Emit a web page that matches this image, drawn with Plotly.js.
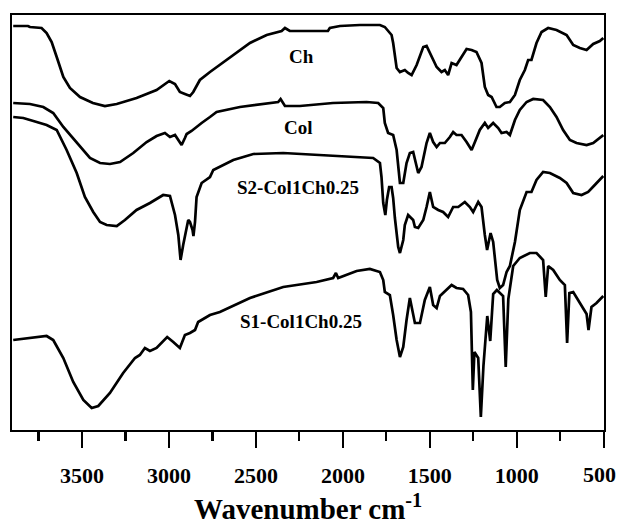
<!DOCTYPE html>
<html>
<head>
<meta charset="utf-8">
<script src="https://cdn.plot.ly/plotly-3.0.1.min.js"></script>
<style>html,body{margin:0;padding:0;background:#fff;}#chart{width:618px;height:528px;}</style>
</head>
<body>
<div id="chart"></div>
<script>
// FTIR spectra (wavenumber in cm-1, transmittance in arbitrary offset units)
const chWn = [3895,3810,3799,3732,3703,3674,3645,3607,3569,3511,3437,3368,3300,3186,3071,2998,2965,2937,2908,2879,2860,2822,2764,2668,2534,2438,2352,2333,2305,2247,2086,2075,2017,1902,1787,1759,1720,1711,1691,1672,1644,1625,1605,1576,1538,1519,1490,1461,1433,1414,1395,1375,1347,1318,1289,1260,1232,1203,1184,1165,1145,1117,1098,1069,1040,1011,983,954,935,916,887,858,820,772,714,676,638,599,561,523,503];
const chT  = [404,404,403,402,397,388,373,353,342,333,327,324,326,332,340,349,346,338,336,334,338,350,358,370,387,395,399,402,399,399,399,402,404,405,405,403,395,387,362,358,360,357,355,365,383,384,373,363,358,360,355,367,365,373,381,380,378,367,343,335,333,323,323,327,328,335,350,360,370,370,387,398,402,400,395,385,382,380,386,389,392];

const colWn = [3895,3799,3722,3665,3607,3530,3454,3396,3339,3281,3205,3128,3071,3023,2994,2965,2946,2927,2908,2898,2870,2850,2812,2764,2726,2592,2438,2372,2358,2333,2247,2057,1864,1797,1768,1759,1740,1711,1691,1672,1653,1634,1615,1596,1567,1548,1519,1500,1481,1461,1442,1414,1385,1366,1347,1318,1289,1260,1241,1213,1184,1165,1136,1107,1088,1059,1040,1011,983,944,906,849,810,772,734,695,657,599,561,523,503];
const colT  = [327,326,323,317,303,287,272,267,266,268,277,288,294,297,293,295,290,285,292,296,299,302,307,313,318,323,326,328,331,324,324,327,328,327,322,307,297,295,280,247,247,267,277,278,257,263,287,297,288,283,287,287,293,298,295,295,288,280,288,300,307,302,307,302,297,298,295,310,320,328,331,330,323,313,300,290,287,285,287,292,295];

const s2Wn = [3895,3837,3760,3703,3645,3588,3530,3483,3435,3396,3358,3300,3253,3186,3109,3033,2994,2971,2965,2946,2933,2918,2898,2889,2879,2864,2859,2850,2841,2812,2764,2745,2630,2515,2343,2151,1960,1826,1787,1778,1768,1756,1747,1734,1720,1711,1701,1682,1672,1653,1644,1625,1596,1586,1567,1538,1519,1500,1481,1452,1424,1395,1366,1337,1299,1270,1251,1222,1203,1194,1184,1171,1151,1136,1113,1098,1079,1059,1040,1011,992,983,944,916,887,849,810,753,714,676,628,590,552,523,503];
const s2T  = [313,312,308,305,300,280,257,233,218,208,205,204,210,220,227,235,234,220,215,195,170,185,200,210,208,200,194,208,233,247,253,260,270,276,277,275,273,272,267,253,227,215,230,243,243,232,212,183,177,190,205,215,210,203,202,210,223,238,223,220,218,213,223,223,228,223,218,228,223,207,195,180,197,188,150,142,145,158,164,188,210,220,238,238,250,258,257,252,247,237,235,238,245,250,254];

const s1Wn = [3895,3799,3703,3665,3607,3550,3492,3444,3406,3339,3263,3195,3167,3138,3109,3071,3042,3010,2975,2937,2908,2879,2850,2832,2764,2707,2534,2343,2151,2056,2040,2027,1921,1845,1787,1768,1759,1730,1711,1691,1672,1653,1634,1615,1586,1557,1529,1500,1481,1461,1442,1404,1375,1347,1309,1280,1264,1253,1244,1222,1207,1192,1170,1153,1136,1115,1079,1064,1049,1021,983,925,887,849,834,820,791,753,724,711,698,676,648,619,599,588,571,542,523,503];
const s1T  = [90,92,94,90,72,48,30,22,24,37,57,72,75,82,79,82,87,93,88,82,95,97,100,108,115,118,132,143,148,152,157,152,159,161,158,150,138,135,115,90,73,83,110,132,107,107,130,143,125,122,134,140,145,142,141,135,118,40,78,72,13,64,114,89,136,140,134,63,131,164,172,177,177,170,133,164,160,150,145,87,137,138,130,123,116,100,123,127,130,134];

// axis ticks; the last tick (at the right edge) gets its label as an annotation so it is not clipped
const tickVals = [3500,3000,2500,2000,1500,1000,500];
const tickText = ['3500','3000','2500','2000','1500','1000',''];
const edgeTickVal = 500;
const edgeTickText = '500';

const sampleLabels = ['Ch','Col','S2-Col1Ch0.25','S1-Col1Ch0.25'];
const labelWn = [2240,2255,2260,2240];
const labelT  = [374,303,243,109];

const serif = 'Liberation Serif, Times New Roman, serif';
const lineStyle = {color:'#000', width:2.7};

const traces = [
  {x: chWn, y: chT},
  {x: colWn, y: colT},
  {x: s2Wn, y: s2T},
  {x: s1Wn, y: s1T}
].map((t, i) => Object.assign(t, {type:'scatter', mode:'lines', line: lineStyle, name: sampleLabels[i], hoverinfo:'x+name'}));

const annotations = sampleLabels.map((s, i) => ({
  x: labelWn[i], y: labelT[i], xref:'x', yref:'y', text: s, showarrow:false,
  font:{family: serif, size:19, color:'#000', weight:'bold'}
}));
annotations.push({
  x: edgeTickVal, y: -0.108, xref:'x', yref:'paper', xanchor:'center', yanchor:'middle',
  xshift: -4, text: edgeTickText, showarrow:false,
  font:{family: serif, size:22, color:'#000', weight:'bold'}
});
annotations.push({
  x: 0.5, y: -0.185, xref:'paper', yref:'paper', xanchor:'center', yanchor:'middle',
  text:'Wavenumber cm<sup>-1</sup>', showarrow:false,
  font:{family: serif, size:29, color:'#000', weight:'bold'}
});

const layout = {
  width:618, height:528,
  margin:{l:12, r:14, t:15, b:98},
  paper_bgcolor:'#fff', plot_bgcolor:'#fff',
  showlegend:false,
  xaxis:{
    range:[3902,499], showgrid:false, zeroline:false,
    showline:true, linecolor:'#000', linewidth:2.2, mirror:true,
    ticks:'outside', ticklen:16, tickwidth:2.2, tickcolor:'#000',
    tickvals: tickVals, ticktext: tickText,
    minor:{dtick:250, tick0:500, ticks:'outside', ticklen:9, tickwidth:2.2, tickcolor:'#000', showgrid:false},
    tickfont:{family: serif, size:22, color:'#000', weight:'bold'},
    ticklabelstandoff: 8
  },
  yaxis:{
    range:[0,415], showgrid:false, zeroline:false,
    showline:true, linecolor:'#000', linewidth:2.2, mirror:true,
    ticks:'', showticklabels:false
  },
  annotations: annotations
};

Plotly.newPlot('chart', traces, layout, {displayModeBar:false, staticPlot:true});
</script>
</body>
</html>
